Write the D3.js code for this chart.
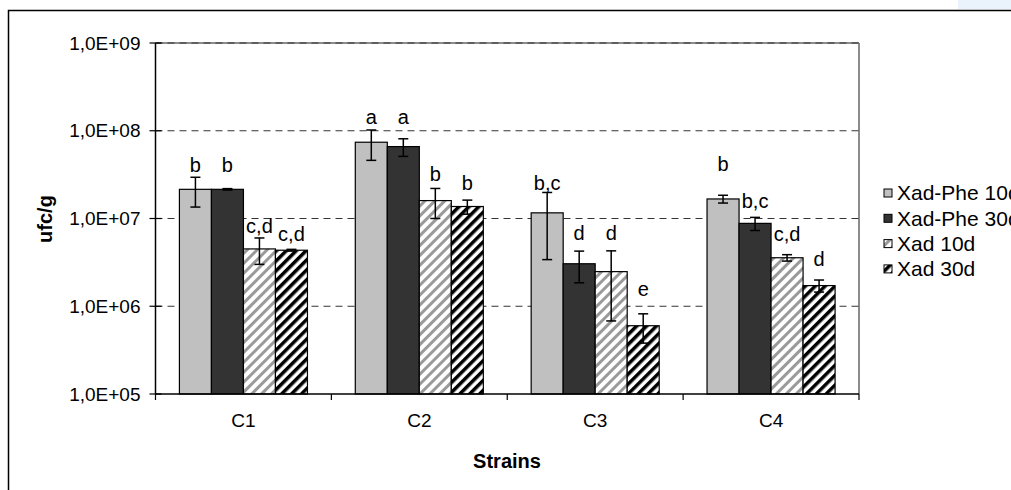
<!DOCTYPE html>
<html><head><meta charset="utf-8">
<script src="https://cdn.jsdelivr.net/npm/d3@7"></script>
<style>body{margin:0;background:#fff;} svg{display:block;} text{font-family:"Liberation Sans",Arial,sans-serif;fill:#000;}</style>
</head><body><svg id="c" width="1011" height="490"></svg>
<script>
const categories = ["C1","C2","C3","C4"];
const series = ["Xad-Phe 10d","Xad-Phe 30d","Xad 10d","Xad 30d"];
const xadPhe10    = [2.15e7, 7.4e7, 1.16e7, 1.67e7];
const xadPhe10Err = [0.8e7,  2.8e7, 0.82e7, 0.17e7];
const xadPhe30    = [2.15e7, 6.6e7, 3.05e6, 8.8e6];
const xadPhe30Err = [0.04e7, 1.5e7, 1.2e6,  1.5e6];
const xad10       = [4.5e6,  1.6e7, 2.48e6, 3.57e6];
const xad10Err    = [1.5e6,  0.6e7, 1.8e6,  0.3e6];
const xad30       = [4.35e6, 1.37e7, 6.0e5, 1.72e6];
const xad30Err    = [0.1e6,  0.25e7, 2.2e5, 0.27e6];
const letters = [["b","b","c,d","c,d"],["a","a","b","b"],["b,c","d","d","e"],["b","b,c","c,d","d"]];
const letterAt = [[4.1e7,4.1e7,8.2e6,6.6e6],[1.45e8,1.45e8,3.24e7,2.56e7],[2.56e7,6.9e6,6.9e6,1.56e6],[4.2e7,1.57e7,6.7e6,3.5e6]];
const yTicks = [1e5,1e6,1e7,1e8,1e9];
const yTickLabels = ["1,0E+05","1,0E+06","1,0E+07","1,0E+08","1,0E+09"];
const yTitle = "ufc/g";
const xTitle = "Strains";

const values = [xadPhe10, xadPhe30, xad10, xad30];
const errs = [xadPhe10Err, xadPhe30Err, xad10Err, xad30Err];

const L = 155.5, R = 859, T = 43, B = 394;
const svg = d3.select("#c");

const defs = svg.append("defs");
function stripe(id, color, w){
  const p = defs.append("pattern").attr("id", id).attr("patternUnits","userSpaceOnUse")
    .attr("width",7).attr("height",7).attr("patternTransform","rotate(45)");
  p.append("rect").attr("width",7).attr("height",7).attr("fill","#fff");
  p.append("rect").attr("x",0).attr("y",0).attr("width",w).attr("height",7).attr("fill",color);
}
stripe("pg","#9a9a9a",3);
stripe("pb","#000",3.5);
const fills = ["#c0c0c0","#333333","url(#pg)","url(#pb)"];

// outer frame & artifact
svg.append("rect").attr("x",958).attr("y",0).attr("width",53).attr("height",9).attr("fill","#eaf2fb");
svg.append("rect").attr("x",8.5).attr("y",10.5).attr("width",1200).attr("height",600)
  .attr("fill","none").attr("stroke","#000").attr("stroke-width",1.5);

const y = d3.scaleLog().domain([1e5,1e9]).range([B,T]);
const x0 = d3.scaleBand().domain(categories).range([L,R]).paddingInner(0.272).paddingOuter(0.136);
const x1 = d3.scaleBand().domain(series).range([0,x0.bandwidth()]);
const step = x0.step();

// plot border (top/right)
svg.append("line").attr("x1",L).attr("x2",R).attr("y1",T).attr("y2",T).attr("stroke","#8c8c8c").attr("stroke-width",2);
svg.append("line").attr("x1",R).attr("x2",R).attr("y1",T).attr("y2",B).attr("stroke","#8c8c8c").attr("stroke-width",2);

// gridlines
svg.append("g").selectAll("line").data(yTicks.slice(1)).join("line")
  .attr("x1",L).attr("x2",R).attr("y1",d=>y(d)).attr("y2",d=>y(d))
  .attr("stroke","#333").attr("stroke-width",1).attr("stroke-dasharray","7,5");

// bars
categories.forEach((c,ci)=>{
  series.forEach((s,si)=>{
    const v = values[si][ci], e = errs[si][ci];
    const bx = x0(c)+x1(s), bw = x1.bandwidth(), cx = bx+bw/2;
    svg.append("rect").attr("x",bx).attr("y",y(v)).attr("width",bw).attr("height",y(1e5)-y(v))
      .attr("fill",fills[si]).attr("stroke","#000").attr("stroke-width",1.2);
    const g = svg.append("g").attr("stroke","#000").attr("stroke-width",1.5);
    g.append("line").attr("x1",cx).attr("x2",cx).attr("y1",y(v+e)).attr("y2",y(v-e));
    g.append("line").attr("x1",cx-5).attr("x2",cx+5).attr("y1",y(v+e)).attr("y2",y(v+e));
    g.append("line").attr("x1",cx-5).attr("x2",cx+5).attr("y1",y(v-e)).attr("y2",y(v-e));
    svg.append("text").attr("x",cx).attr("y",y(letterAt[ci][si])).attr("dy","0.35em")
      .attr("text-anchor","middle").attr("font-size",20).text(letters[ci][si]);
  });
});

// y axis
svg.append("line").attr("x1",L).attr("x2",L).attr("y1",T).attr("y2",B).attr("stroke","#000").attr("stroke-width",1.5);
const yt = svg.append("g").selectAll("g").data(yTicks).join("g");
yt.append("line").attr("x1",L-6).attr("x2",L+6).attr("y1",d=>y(d)).attr("y2",d=>y(d)).attr("stroke","#000").attr("stroke-width",1.2);
yt.append("text").attr("x",L-15).attr("y",d=>y(d)).attr("dy","0.35em").attr("text-anchor","end")
  .attr("font-size",19).text((d,i)=>yTickLabels[i]);

// x axis
svg.append("line").attr("x1",L).attr("x2",R).attr("y1",B).attr("y2",B).attr("stroke","#000").attr("stroke-width",1.5);
svg.append("g").selectAll("line").data(d3.range(categories.length+1)).join("line")
  .attr("x1",i=>L+i*step).attr("x2",i=>L+i*step).attr("y1",B).attr("y2",B+6)
  .attr("stroke","#000").attr("stroke-width",1.2);
svg.append("g").selectAll("text").data(categories).join("text")
  .attr("x",d=>x0(d)+x0.bandwidth()/2).attr("y",427).attr("text-anchor","middle")
  .attr("font-size",19).text(d=>d);

// titles
svg.append("text").attr("x",507).attr("y",468).attr("text-anchor","middle")
  .attr("font-size",20).attr("font-weight","bold").text(xTitle);
svg.append("text").attr("transform","translate(52,219) rotate(-90)").attr("text-anchor","middle")
  .attr("font-size",20).attr("font-weight","bold").text(yTitle);

// legend
const lg = svg.append("g").selectAll("g").data(series).join("g")
  .attr("transform",(d,i)=>`translate(884,${193+i*25.3})`);
lg.append("rect").attr("x",0).attr("y",-4).attr("width",8).attr("height",8)
  .attr("fill",(d,i)=>fills[i]).attr("stroke","#000").attr("stroke-width",1);
lg.append("text").attr("x",13).attr("y",0).attr("dy","0.35em").attr("font-size",21).text(d=>d);
</script></body></html>
